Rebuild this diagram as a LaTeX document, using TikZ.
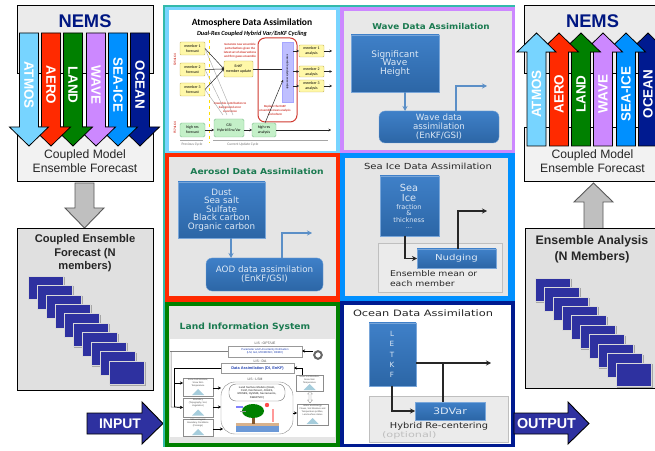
\documentclass[tikz,border=0pt]{standalone}
\usepackage{graphicx}
\usepackage{fontspec}
\setmainfont{Liberation Sans}
\newfontfamily\dvf{DejaVu Sans}
\newfontfamily\carl{Carlito}
\usetikzlibrary{arrows.meta,calc}
\definecolor{navyarrow}{HTML}{2E31A0}
\definecolor{wavegreen}{HTML}{1A7A50}
\definecolor{cellblue}{HTML}{3F80C8}
\definecolor{cellbluedk}{HTML}{2C66A6}
\definecolor{linkblue}{HTML}{5B8FC7}
\definecolor{paneltext}{HTML}{DCE8F5}
\definecolor{yel}{HTML}{FFF8A8}
\definecolor{yelb}{HTML}{C8B860}
\definecolor{grn}{HTML}{C4F0C8}
\definecolor{grnb}{HTML}{80C090}
\definecolor{redt}{HTML}{D03A30}
\definecolor{lisblue}{HTML}{2040B0}
\newcommand\hs[2]{\scalebox{#1}[1]{#2}}
% box by corners: style, name, x1, y1, x2, y2, text
\newcommand\cbox[7]{%
 \pgfmathsetmacro\cbw{#5-#3}\pgfmathsetmacro\cbh{#6-#4}%
 \pgfmathsetmacro\cbx{(#3+#5)/2}\pgfmathsetmacro\cby{(#4+#6)/2}%
 \node[#1,minimum width=\cbw bp,minimum height=\cbh bp] (#2) at (\cbx,\cby) {#7};}
\tikzset{
 every node/.style={inner sep=0pt,outer sep=0pt,align=center},
 outerbox/.style={draw=black,line width=0.9pt},
 panel/.style={fill=#1,draw=none},
 fonttitle/.style={font=\fontsize{#1}{#1}\selectfont\dvf\bfseries,text=wavegreen},
 bluebox/.style={top color=cellblue,bottom color=cellbluedk,draw=cellblue!70!white,line width=0.4pt,text=paneltext,font=\fontsize{9}{8.9}\selectfont\dvf},
 blueround/.style={bluebox,rounded corners=6pt},
 linkarrow/.style={draw=linkblue,line width=1.3pt,-{Stealth[length=5pt,width=5pt]}},
 blackarrow/.style={draw=black!85,line width=1.2pt,-{Stealth[length=5pt,width=5pt]}},
 member/.style={fill=navyarrow,draw=black!15,line width=0.7pt},
 memshadow/.style={fill=black!35,draw=none},
 bigarrow/.style={fill=navyarrow,draw=black,line width=0.9pt},
 greyarrow/.style={fill=black!25,draw=black!65,line width=0.9pt},
 paleb/.style={fill=black!8,draw=black!25,line width=0.6pt},
 yb/.style={fill=yel,draw=yelb,line width=0.4pt,rounded corners=1pt,font=\fontsize{3.9}{5}\selectfont\carl},
 gb/.style={fill=grn,draw=grnb,line width=0.4pt,rounded corners=1.5pt,font=\fontsize{3.9}{5}\selectfont\carl},
 redtxt/.style={text=redt,font=\fontsize{3.1}{4}\selectfont\carl\bfseries},
 thin1/.style={draw=black!85,line width=0.5pt,-{Stealth[length=2.5pt,width=2.5pt]}},
 greyl/.style={draw=black!35,line width=0.4pt},
 lisbox/.style={fill=white,draw=black!45,line width=0.4pt},
 lisblue/.style={fill=white,draw=black!40,line width=0.5pt,text=lisblue},
 lisarrow/.style={draw=black,line width=0.7pt,-{Stealth[length=3pt,width=3pt]}},
 lislabel/.style={font=\fontsize{3.4}{4}\selectfont,text=black!70},
 listiny/.style={font=\fontsize{2.3}{2.8}\selectfont,text=black!70},
}
% down arrow: name, centre x, colour, label
\newcommand\dnarrow[4]{%
 \draw[fill=#3,draw=black,line width=0.8pt,line join=miter]
  ({#2-9.5},33)--({#2+9.5},33)--({#2+9.5},127)--({#2+19.5},127)--(#2,146)--({#2-19.5},127)--({#2-9.5},127)--cycle;
 \node[rotate=-90,text=white,font=\fontsize{13.5}{14}\selectfont\bfseries] (#1) at (#2,85) {#4};}
\newcommand\uparrowx[4]{%
 \draw[fill=#3,draw=black,line width=0.8pt,line join=miter]
  ({#2-9.5},146)--({#2+9.5},146)--({#2+9.5},52)--({#2+19.5},52)--(#2,33)--({#2-19.5},52)--({#2-9.5},52)--cycle;
 \node[rotate=90,text=white,font=\fontsize{13.5}{14}\selectfont\bfseries] (#1) at (#2,94) {#4};}
% stack of ten member sheets
\newcommand\sheets[2]{%
 \foreach \i in {0,...,9}{
  \fill[memshadow] ({#1+9*\i+1},{#2+9.45*\i+1}) rectangle ({#1+9*\i+36.5},{#2+9.45*\i+24.5});
  \draw[member] ({#1+9*\i},{#2+9.45*\i}) rectangle ({#1+9*\i+35.5},{#2+9.45*\i+23.5});
 }}
\newcommand\bell[3]{\fill[black!35!cyan!40!white] ({#1-#3},#2)--(#1,{#2-#3})--({#1+#3},#2)--cycle;}
\begin{document}
\begin{tikzpicture}[x=1bp,y=-1bp]
\useasboundingbox (0,0) rectangle (655,451);
\clip (0,0) rectangle (655,451);
\fill[white] (0,0) rectangle (655,451);
\definecolor{cATM}{HTML}{77D4FF}
\definecolor{cAER}{HTML}{FF2A00}
\definecolor{cLAN}{HTML}{008000}
\definecolor{cWAV}{HTML}{CC88FF}
\definecolor{cSEA}{HTML}{0090FF}
\definecolor{cOCE}{HTML}{001A90}
%% ---------- left column
\draw[outerbox,fill=black!8] (17,5) rectangle (153,73);
\draw[outerbox,fill=black!5] (17,127) rectangle (153,181);
\node[text=cOCE!90!black,font=\fontsize{18.4}{19}\selectfont\bfseries] (nemsL) at (85,21.5) {NEMS};
\dnarrow{dOcean}{140}{cOCE}{OCEAN}
\dnarrow{dSea}{118}{cSEA}{SEA-ICE}
\dnarrow{dWave}{96}{cWAV}{WAVE}
\dnarrow{dLand}{73}{cLAN}{LAND}
\dnarrow{dAero}{51}{cAER}{AERO}
\dnarrow{dAtmos}{29}{cATM}{ATMOS}
\node[font=\fontsize{12.2}{14}\selectfont,text=black!85] (cmL) at (85,161) {Coupled Model\\Ensemble Forecast};
\draw[greyarrow] (75,183)--(94,183)--(94,208)--(104,208)--(84.5,228)--(65,208)--(75,208)--cycle;
\draw[outerbox,fill=black!12] (17,228.5) rectangle (153,390);
\node[font=\fontsize{11.2}{13.6}\selectfont\bfseries,text=black!85] (cefL) at (85,253.5) {Coupled Ensemble\\Forecast (N\\members)};
\sheets{28}{276}
\draw[bigarrow] (87,413)--(142,413)--(142,402)--(163,423.5)--(142,444)--(142,434)--(87,434)--cycle;
\node[text=white,font=\fontsize{14}{15}\selectfont\bfseries] (inp) at (120,424) {INPUT};
%% ---------- panels
\fill[cyan!50!green!80!white] (163,5) rectangle (515,447);
\cbox{panel=cATM}{atmP}{165}{7}{340}{154}{}
\fill[white] (168.5,10.5) rectangle (336,151);
\cbox{panel=cWAV}{wavP}{340}{7}{515}{154}{}
\fill[black!9] (343.5,11) rectangle (512,150.5);
\cbox{panel=cAER}{aerP}{165}{153}{340}{300}{}
\fill[black!10] (169,157) rectangle (335.5,296);
\cbox{panel=cSEA}{seaP}{340}{153}{515}{300}{}
\fill[black!10] (345,158) rectangle (508,296);
\fill[cAER] (165,298) rectangle (340,303);
\cbox{panel=cLAN}{lanP}{165}{302}{340}{447}{}
\fill[black!10] (169,306) rectangle (335.5,443);
\fill[white] (170,339) rectangle (335,437);
\fill[cSEA] (340,298) rectangle (515,302);
\cbox{panel=cOCE}{ocnP}{340}{301}{515}{447}{}
\fill[white] (344,305) rectangle (511,444);
%% ---------- wave
\node[fonttitle=8.1] (wavT) at (431,26) {\hs{1.09}{Wave Data Assimilation}};
\cbox{bluebox}{sigw}{351}{35}{439}{92}{Significant\\Wave\\Height}
\cbox{blueround,font=\fontsize{8.7}{8.9}\selectfont\dvf}{wavA}{379}{111}{499}{143}{Wave data\\assimilation\\(EnKF/GSI)}
\draw[linkarrow] (405,0 |- sigw.south) -- (405,0 |- wavA.north);
\coordinate (wavO) at (487,86);
\draw[linkarrow] (456,0 |- wavA.north) |- (wavO);
%% ---------- aerosol
\node[fonttitle=8.1] (aerT) at (257,171) {\hs{1.135}{Aerosol Data Assimilation}};
\cbox{bluebox,font=\fontsize{8.8}{8.5}\selectfont\dvf}{dust}{178}{182}{265}{238}{Dust\\Sea salt\\Sulfate\\Black carbon\\Organic carbon}
\cbox{blueround,font=\fontsize{8.8}{9}\selectfont\dvf}{aod}{206}{258}{323}{291}{AOD data assimilation\\(EnKF/GSI)}
\draw[linkarrow] (231,0 |- dust.south) -- (231,0 |- aod.north);
\coordinate (aerO) at (312,233);
\draw[linkarrow] (282,0 |- aod.north) |- (aerO);
%% ---------- sea ice
\node[font=\fontsize{8.4}{9}\selectfont\dvf,text=black!85] (seaT) at (428,166) {\hs{1.2}{Sea Ice Data Assimilation}};
\cbox{bluebox}{ice}{380}{176}{439}{236}{}
\node[text=paneltext,font=\fontsize{9.8}{10}\selectfont\dvf] (iceA) at (409,193) {Sea\\Ice};
\node[text=paneltext,font=\fontsize{6.6}{6.6}\selectfont\dvf] (iceB) at (409,216.5) {fraction\\\&\\thickness\\...};
\cbox{paleb}{nudO}{378}{243}{502}{292}{}
\cbox{bluebox,font=\fontsize{8.2}{9}\selectfont\dvf}{nud}{417}{249}{496}{268}{\hs{1.25}{Nudging}}
\node[anchor=west,font=\fontsize{7.9}{10}\selectfont\dvf,text=black!85,align=left] (ens) at (390,279) {\hs{1.18}{Ensemble mean or}\\\hs{1.18}{each member}};
\draw[blackarrow] (405,0 |- ice.south) |- (nud.west);
\coordinate (seaO) at (487,211);
\draw[blackarrow] (458,0 |- nud.north) |- (seaO);
%% ---------- ocean
\node[font=\fontsize{8.8}{9}\selectfont\dvf,text=black!85] (ocnT) at (423,313) {\hs{1.3}{Ocean Data Assimilation}};
\cbox{bluebox}{letkf}{369}{323}{416}{386}{}
\node[text=paneltext,font=\fontsize{7.2}{10.3}\selectfont\dvf] (letT) at (392,354.5) {L\\E\\T\\K\\F};
\cbox{paleb}{hybO}{369}{396}{508}{442}{}
\cbox{bluebox,font=\fontsize{9}{9}\selectfont\dvf}{var3}{415}{402}{485}{420}{\hs{1.25}{3DVar}}
\node[font=\fontsize{8.2}{9}\selectfont\dvf,text=black!85] (hyb) at (439,426) {\hs{1.2}{Hybrid Re-centering}};
\node[anchor=west,font=\fontsize{7.8}{9}\selectfont\dvf,text=black!25] (opt) at (382,435.5) {\hs{1.45}{(optional)}};
\coordinate (ocnO) at (491,363);
\draw[blackarrow] (416,363) -- (ocnO);
\draw[draw=black!85,line width=1.2pt] (443,0 |- var3.north) -- (443,363);
\draw[blackarrow] (392,0 |- letkf.south) |- (var3.west);
%% ---------- atmosphere
\node[font=\fontsize{9.6}{10}\selectfont\carl\bfseries] (atmT) at (252,23) {Atmosphere Data Assimilation};
\node[font=\fontsize{6.3}{7}\selectfont\carl\bfseries\itshape] (atmS) at (252,34) {Dual-Res Coupled Hybrid Var/EnKF Cycling};
\draw[redt,line width=1pt,rounded corners=7pt] (258,38) rectangle (297,122);
\draw[yellow!80!orange,dashed,line width=0.5pt] (209,40) -- (209,142);
\cbox{yb}{m1f}{180}{42}{205}{55}{member 1\\forecast}
\cbox{yb}{m2f}{180}{63}{205}{76}{member 2\\forecast}
\cbox{yb}{m3f}{180}{83}{205}{96}{member 3\\forecast}
\cbox{yb}{enkf}{224}{61}{253}{77}{EnKF\\member update}
\cbox{fill=blue!25!white,draw=blue!35!white,line width=0.3pt}{lav}{282}{42}{293}{102}{}
\node[rotate=-90,font=\fontsize{3}{3.5}\selectfont\carl] (lavT) at (287.5,72) {ensemble analysis ensemble};
\cbox{yb}{m1a}{299}{45}{324}{57}{member 1\\analysis}
\cbox{yb}{m2a}{299}{66}{324}{77}{member 2\\analysis}
\cbox{yb}{m3a}{299}{80}{324}{92}{member 3\\analysis}
\cbox{gb}{hrf}{180}{123}{205}{137}{high res\\forecast}
\cbox{gb}{gsi}{214}{119}{244}{137}{GSI\\Hybrid Ens/Var}
\cbox{gb}{hra}{252}{123}{276}{137}{high res\\analysis}
\node[rotate=90,text=redt,font=\fontsize{3.4}{4}\selectfont\carl\bfseries] (t254) at (175,60) {T254L64};
\node[rotate=90,text=redt,font=\fontsize{3.4}{4}\selectfont\carl\bfseries] (t574) at (175,128) {T574L64};
\node[redtxt] (rt1) at (240,50.5) {Generate new ensemble\\perturbations given the\\latest set of observations\\and first-guess ensemble};
\node[redtxt] (rt2) at (230,107) {Ensemble contribution to\\background error\\covariance};
\node[redtxt] (rt3) at (275,110.5) {Replace the EnKF\\ensemble mean analysis\\and reform};
\coordinate (ct1) at (233,115);\coordinate (ct2) at (227,115);\coordinate (ct3) at (223,115);
\draw[greyl] (m1f.east) -- (ct1);
\draw[greyl] (m2f.east) -- (ct2);
\draw[greyl] (m3f.east) -- (ct3);
\draw[thin1] (m1f.east) -- (enkf.west);
\draw[thin1] (m2f.east) -- (enkf.west);
\draw[thin1] (m3f.east) -- (enkf.west);
\draw[draw=black!85,line width=0.5pt] (enkf.east) -- (lav.west |- enkf.east);
\draw[thin1] (lav.east |- m1a.west) -- (m1a.west);
\draw[thin1] (lav.east |- m2a.west) -- (m2a.west);
\draw[thin1] (lav.east |- m3a.west) -- (m3a.west);
\coordinate (o1) at (332,51);\coordinate (o2) at (332,71.5);\coordinate (o3) at (332,86);
\draw[thin1] (m1a.east) -- (o1);
\draw[thin1] (m2a.east) -- (o2);
\draw[thin1] (m3a.east) -- (o3);
\draw[thin1] (hrf.east) -- (gsi.west |- hrf.east);
\draw[thin1] (gsi.east |- hra.west) -- (hra.west);
\coordinate (o4) at (331,130);
\draw[thin1] (hra.east) -- (o4);
\draw[thin1] (265,123) -- (283,80);
\coordinate (pvL) at (180,140);\coordinate (pvR) at (203,140);\coordinate (cuL) at (213,140);\coordinate (cuR) at (328,140);
\draw[greyl] (pvL) -- (pvR);
\draw[greyl] (cuL) -- (cuR);
\node[text=black!55,font=\fontsize{3.6}{4}\selectfont\carl] (pv) at (192,145) {Previous Cycle};
\node[text=black!55,font=\fontsize{3.6}{4}\selectfont\carl] (cu) at (243,145) {Current Update Cycle};
%% ---------- land
\node[fonttitle=8.6] (lanT) at (245,327) {\hs{1.07}{Land Information System}};
\node[lislabel] (lo) at (265,343) {LIS : OPT/UE};
\cbox{lisblue,font=\fontsize{2.8}{3.4}\selectfont}{opb}{228}{346}{302}{357}{Parameter and Uncertainty Estimation\\(LM, GA, MH/MCMC, DEMC)}
\node[lislabel] (ld) at (260,361.2) {LIS : DA};
\cbox{lisblue,font=\fontsize{3.9}{4}\selectfont\bfseries}{dab}{221}{363}{294}{373}{Data Assimilation (DI, EnKF)}
\cbox{lisbox}{l1}{183}{378}{213}{396}{}
\cbox{lisbox}{l2}{183}{398}{213}{417}{}
\cbox{lisbox}{l3}{183}{419}{213}{436}{}
\cbox{lisbox}{r1}{296}{375}{323}{391}{}
\cbox{lisbox}{r2}{297}{404}{328}{425}{}
\node[listiny] (l1t) at (198,383) {Snow Soil Moisture,\\Snow Skin\\Temperature};
\node[listiny] (l2t) at (198,403) {Boundary\\(Topography, Soil,\\Vegetation)};
\node[listiny] (l3t) at (198,423) {Meteorological\\Boundary Conditions\\(Forcings)};
\node[listiny] (r1t) at (309.5,380) {Snow Soil Moisture,\\Snow Skin\\Temperature};
\node[listiny] (r2t) at (312.5,410) {Water and Energy\\Fluxes, Soil Moisture and\\Temperature profiles,\\Land surface states};
\bell{198}{395}{6}\bell{198}{415.5}{6}\bell{198}{435}{6}\bell{309.5}{390}{6}\bell{312.5}{424}{6}
\node[lislabel] (ll) at (255,379) {LIS : LSM};
\cbox{draw=black!45,line width=0.4pt,fill=white,rounded corners=14pt}{lsm}{221}{382}{293}{434}{}
\cbox{draw=black!55,line width=0.4pt,fill=white,rounded corners=7pt,font=\fontsize{2.7}{3.4}\selectfont\bfseries,text=black!65}{lsmi}{229}{384}{285}{401}{Land Surface Models (Noah,\\CLM, Catchment, JULES,\\MOSES, HySSiB, Sacramento,\\SWAP/VIC)}
% land surface scene
\fill[brown!60!white] (236,423) rectangle (279,426);
\fill[cyan!50!blue!60!white] (236,426) rectangle (279,432);
\fill[brown!70!black] (251.5,413) rectangle (254.5,424);
\fill[green!50!black] (253,411) ellipse (11 and 7);
\fill[blue!50!white] (236,406) rectangle (243,408);
\fill[red!70!white] (267,405) circle (2.2);
\fill[red!40!white] (272,409) rectangle (274,422);
\fill[black!40] (240,411) rectangle (246,412);
% connectors
\coordinate (ring) at (318,355);
\draw[black!60,line width=2pt] (ring) circle (3.8);
\draw[lisarrow,line width=0.5pt] (313,351) -- (opb.east |- 0,351);
\coordinate (topL) at (170,351);
\draw[black!50,line width=0.6pt] (topL) -- (opb.west |- topL);
\draw[black!60,line width=0.5pt,-{Stealth[length=3pt,width=3pt]}] (171,351) -- (171,407) -- (l2.west);
\coordinate (spine) at (174.5,368);
\draw[black,line width=0.7pt] (dab.west) -- (spine) -- (174.5,407);
\draw[lisarrow] (174.5,383) -- (l1.west |- 0,383);
\draw[lisarrow] (174.5,407) -- (l2.west);
\draw[lisarrow] (r1.north -| 302,0) |- (dab.east);
\draw[lisarrow] (l1.east |- 0,388) -- (221,388);
\draw[lisarrow] (l2.east |- 0,407) -- (221,407);
\draw[lisarrow] (l3.east |- 0,429) -- (223,429);
\draw[lisarrow] (lsm.east |- 0,413) -- (r2.west |- 0,413);
\draw[black!50,fill=white,line width=0.3pt] (310,391.5)--(312.5,394)--(311,394)--(311,400)--(312.5,400)--(310,403)--(307.5,400)--(309,400)--(309,394)--(307.5,394)--cycle;
%% ---------- right column
\draw[outerbox,fill=black!8] (524.5,5) rectangle (660,73);
\draw[outerbox,fill=black!5] (524.5,127) rectangle (660,181);
\node[text=cOCE!90!black,font=\fontsize{18.4}{19}\selectfont\bfseries] (nemsR) at (592.5,21.5) {NEMS};
\uparrowx{uOcean}{648}{cOCE}{OCEAN}
\uparrowx{uSea}{626}{cSEA}{SEA-ICE}
\uparrowx{uWave}{603}{cWAV}{WAVE}
\uparrowx{uLand}{581}{cLAN}{LAND}
\uparrowx{uAero}{559}{cAER}{AERO}
\uparrowx{uAtmos}{536.5}{cATM}{ATMOS}
\node[font=\fontsize{12.2}{14}\selectfont,text=black!85] (cmR) at (592.5,161) {Coupled Model\\Ensemble Forecast};
\draw[greyarrow] (584,230)--(603,230)--(603,202)--(613,202)--(593.5,183)--(574,202)--(584,202)--cycle;
\draw[outerbox,fill=black!12] (525,228.5) rectangle (660,388);
\node[font=\fontsize{12.4}{16}\selectfont\bfseries,text=black!85] (eaR) at (592,249) {Ensemble Analysis\\(N Members)};
\sheets{535}{278}
\draw[bigarrow] (514,413)--(568,413)--(568,402)--(589,423.5)--(568,444)--(568,434)--(514,434)--cycle;
\node[text=white,font=\fontsize{14.4}{15}\selectfont\bfseries] (outp) at (546.5,424) {OUTPUT};
\end{tikzpicture}
\end{document}
